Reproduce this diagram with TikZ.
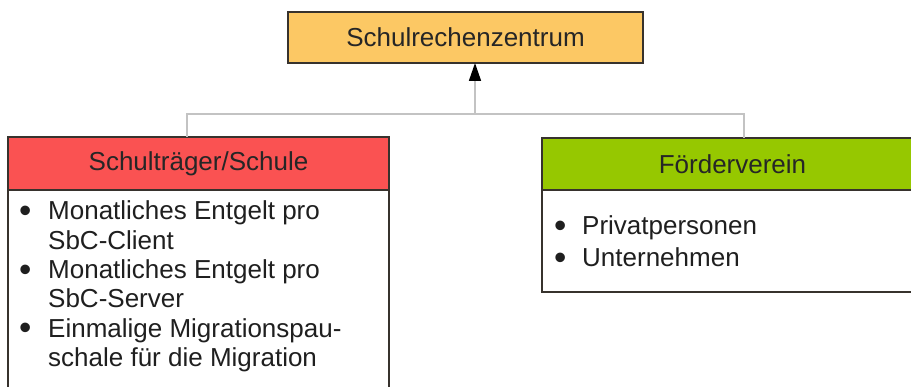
\documentclass[tikz,border=0pt]{standalone}
\usepackage{fontspec}
\setmainfont{Liberation Sans}
\usetikzlibrary{arrows.meta,positioning}

\definecolor{srzgelb}{RGB}{252,200,100}
\definecolor{strot}{RGB}{250,82,82}
\definecolor{fvgruen}{RGB}{150,200,0}
\definecolor{rahmen}{RGB}{55,50,45}
\definecolor{linie}{RGB}{195,195,195}
\newcommand{\dicker}{\raisebox{-2.5pt}{\scalebox{1.35}{\textbullet}}}

\begin{document}
\begin{tikzpicture}[
    x=1pt, y=1pt,
    head/.style={draw=rahmen, line width=1.6pt, align=center, outer sep=0pt, text=black!85, font=\fontsize{26}{30}\selectfont},
    body/.style={draw=rahmen, line width=1.6pt, fill=white, outer sep=0pt, minimum width=381pt},
    list/.style={inner sep=0pt, anchor=base west, text=black!88},
    bus/.style={draw=linie, line width=1.6pt},
    link/.style={draw=linie, line width=1.6pt, -{Triangle[length=18pt, width=12pt, color=black]}}
]
\useasboundingbox (0,0) rectangle (911,387);
\clip (0,0) rectangle (911,387);
% Kopf
\node[head, fill=srzgelb, minimum width=355pt, minimum height=51pt] (srz) at (465.5,349.5) {Schulrechenzentrum};
% Traeger und Verein
\node[body, minimum height=230pt] (stb) at (198.5,82) {};
\node[head, fill=strot, minimum width=381pt, minimum height=53pt, above=0pt of stb] (st) {Schulträger/Schule};
\node[body, minimum height=102pt] (fvb) at (732.5,146) {};
\node[head, fill=fvgruen, minimum width=381pt, minimum height=52pt, above=0pt of fvb] (fv) {Förderverein};
\node[list, font=\fontsize{26}{29.3}\selectfont] (stl) at (19,167) {%
  \begin{tabular}[t]{@{}p{29pt}@{}l@{}}
  \dicker & Monatliches Entgelt pro\\
          & SbC-Client\\
  \dicker & Monatliches Entgelt pro\\
          & SbC-Server\\
  \dicker & Einmalige Migrationspau-\\
          & schale für die Migration
  \end{tabular}};
\node[list, font=\fontsize{26}{32}\selectfont] (fvl) at (554,152) {%
  \begin{tabular}[t]{@{}p{28pt}@{}l@{}}
  \dicker & Privatpersonen\\
  \dicker & Unternehmen
  \end{tabular}};
% Verbindungen
\coordinate (bl) at (187,273);
\coordinate (bm) at (475,273);
\coordinate (br) at (744,273);
\draw[bus] (st.north -| bl) |- (br) -- (fv.north -| br);
\draw[link] (bm) -- (srz.south -| bm);
\end{tikzpicture}
\end{document}
